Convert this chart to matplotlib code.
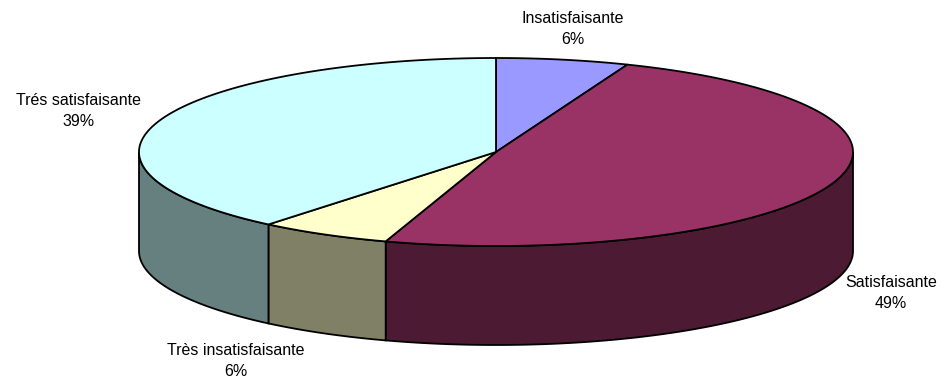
import numpy as np
import matplotlib
matplotlib.use("Agg")
from matplotlib import pyplot as plt
from matplotlib.patches import Polygon

plt.rcParams['font.family'] = ['Liberation Sans', 'DejaVu Sans']

categories = ['Insatisfaisante', 'Satisfaisante', 'Très insatisfaisante', 'Trés satisfaisante']
shares = [6, 49, 6, 39]
top_colors = ['#9999FF', '#993366', '#FFFFCC', '#CCFFFF']
side_colors = ['#4D4D80', '#4D1A33', '#808066', '#668080']

# pie geometry in pixel units
CX, CY = 496, 152
RX, RY = 357, 94
DEPTH = 99
# label centres (pixels)
label_pos = [(573, 29), (891, 293), (236, 361), (79, 111)]


def rim(t0, t1, dy=0, n=200):
    t = np.radians(np.linspace(t0, t1, n))
    return np.column_stack([CX + RX * np.sin(t), CY + dy - RY * np.cos(t)])


def main():
    fig = plt.figure(figsize=(9.47, 3.78), dpi=100)
    ax = fig.add_axes([0, 0, 1, 1])
    ax.set_xlim(0, 947)
    ax.set_ylim(378, 0)
    ax.axis('off')

    bounds = np.concatenate([[0], np.cumsum(shares)]) / sum(shares) * 360

    # front sides first
    for i in range(len(shares)):
        a0, a1 = max(bounds[i], 90), min(bounds[i + 1], 270)
        if a1 <= a0:
            continue
        top = rim(a0, a1)
        bot = rim(a0, a1, DEPTH)[::-1]
        ax.add_patch(Polygon(np.vstack([top, bot]), closed=True,
                             facecolor=side_colors[i], edgecolor='black', lw=1.3))

    # top faces
    for i in range(len(shares)):
        arc = rim(bounds[i], bounds[i + 1])
        pts = np.vstack([[CX, CY], arc])
        ax.add_patch(Polygon(pts, closed=True, facecolor=top_colors[i],
                             edgecolor='black', lw=1.3, joinstyle='round'))

    for name, val, (x, y) in zip(categories, shares, label_pos):
        ax.text(x, y, f'{name}\n{val}%', ha='center', va='center',
                fontsize=11.5, linespacing=1.45)

    fig.savefig('out.png', dpi=100)


if __name__ == '__main__':
    main()
